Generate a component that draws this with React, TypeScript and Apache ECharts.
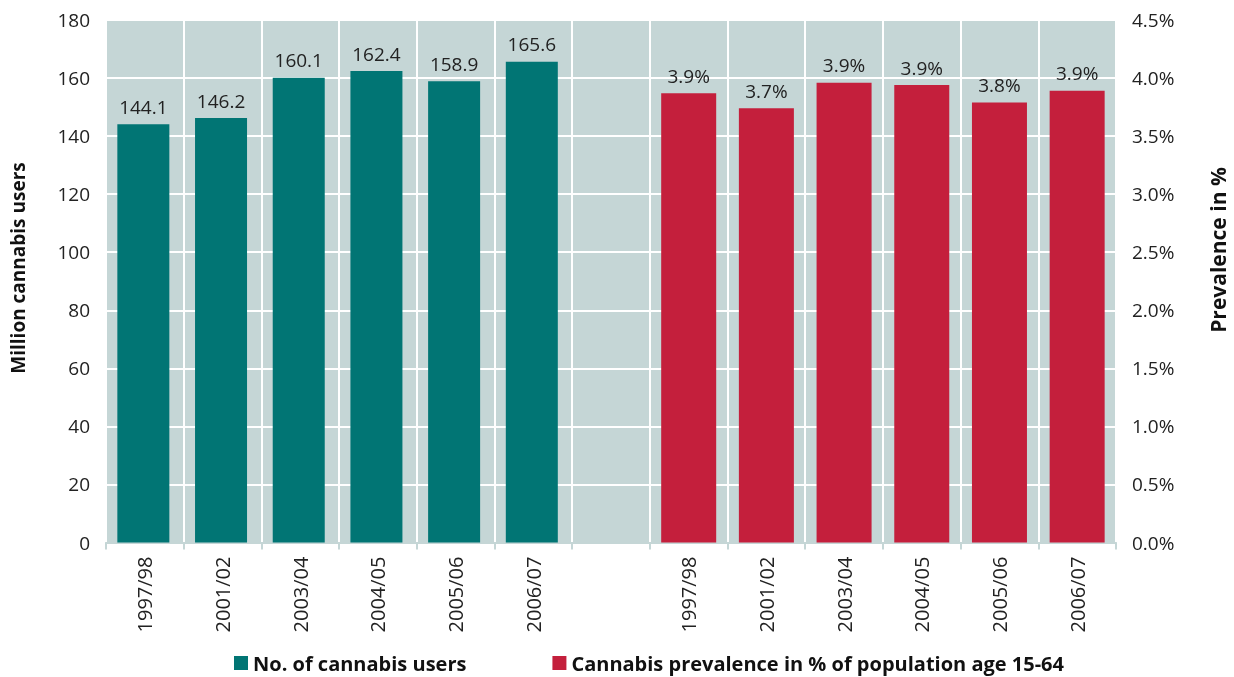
import React, { useEffect, useRef } from "react";
import * as echarts from "echarts";

const periods = ["1997/98", "2001/02", "2003/04", "2004/05", "2005/06", "2006/07"];
const categories = [...periods, "", ...periods];
const users = [144.1, 146.2, 160.1, 162.4, 158.9, 165.6];
const prevalence = [3.87, 3.74, 3.96, 3.94, 3.79, 3.89];
const prevalenceLabels = ["3.9%", "3.7%", "3.9%", "3.9%", "3.8%", "3.9%"];
const leftTicks = { min: 0, max: 180, interval: 20 };
const rightTicks = { min: 0, max: 4.5, interval: 0.5 };

const FONT = "'Open Sans', 'Noto Sans', sans-serif";
const TEAL = "#017574";
const RED = "#c41f3c";
const BG = "#c5d6d6";
const TEXT = "#222222";

export default function App() {
  const ref = useRef<HTMLDivElement>(null);
  useEffect(() => {
    if (!ref.current) return;
    const chart = echarts.init(ref.current, undefined, { renderer: "svg" });
    const tealData = [...users, ...new Array(7).fill("-")];
    const redData = [...new Array(7).fill("-"), ...prevalence];
    chart.setOption({
      animation: false,
      textStyle: { fontFamily: FONT },
      grid: {
        left: 106,
        right: 118,
        top: 20,
        bottom: 134.5,
        show: true,
        backgroundColor: BG,
        borderWidth: 0,
      },
      legend: {
        left: 234,
        top: 653,
        padding: 0,
        icon: "rect",
        itemWidth: 14,
        itemHeight: 14,
        itemGap: 86,
        textStyle: {
          fontFamily: FONT,
          fontSize: 20,
          lineHeight: 20,
          fontWeight: "bold",
          color: "#111",
        },
        data: ["No. of cannabis users", "Cannabis prevalence in % of population age 15-64"],
      },
      graphic: [
        {
          type: "text",
          x: 18,
          y: 268,
          rotation: Math.PI / 2,
          style: {
            text: "Million cannabis users",
            textAlign: "center",
            textVerticalAlign: "middle",
            font: `bold 19px ${FONT}`,
            fill: "#111",
          },
        },
        {
          type: "text",
          x: 1218,
          y: 250,
          rotation: Math.PI / 2,
          style: {
            text: "Prevalence in %",
            textAlign: "center",
            textVerticalAlign: "middle",
            font: `bold 21px ${FONT}`,
            fill: "#111",
          },
        },
      ],
      xAxis: {
        type: "category",
        data: categories,
        axisLine: { lineStyle: { color: BG, width: 2 } },
        axisTick: { show: true, length: 7, interval: 0, lineStyle: { color: BG, width: 2 } },
        splitLine: { show: true, interval: 0, lineStyle: { color: "#ffffff", width: 2 } },
        axisLabel: {
          rotate: 90,
          interval: 0,
          margin: 14,
          fontSize: 20,
          color: TEXT,
          fontFamily: FONT,
        },
      },
      yAxis: [
        {
          type: "value",
          ...leftTicks,
          axisLine: { show: false },
          axisTick: { show: false },
          splitLine: { show: true, lineStyle: { color: "#ffffff", width: 2 } },
          axisLabel: { margin: 16, fontSize: 19, color: TEXT, fontFamily: FONT },
        },
        {
          type: "value",
          ...rightTicks,
          position: "right",
          axisLine: { show: false },
          axisTick: { show: false },
          splitLine: { show: false },
          axisLabel: {
            margin: 16,
            fontSize: 19,
            color: TEXT,
            fontFamily: FONT,
            formatter: (v: number) => v.toFixed(1) + "%",
          },
        },
      ],
      series: [
        {
          name: "No. of cannabis users",
          type: "bar",
          yAxisIndex: 0,
          data: tealData,
          barWidth: 52,
          barGap: "-100%",
          itemStyle: { color: TEAL },
          label: {
            show: true,
            position: "top",
            distance: 8,
            fontSize: 19,
            color: TEXT,
            fontFamily: FONT,
            formatter: (p: any) => Number(p.value).toFixed(1),
          },
        },
        {
          name: "Cannabis prevalence in % of population age 15-64",
          type: "bar",
          yAxisIndex: 1,
          data: redData,
          barWidth: 55,
          barGap: "-100%",
          itemStyle: { color: RED },
          label: {
            show: true,
            position: "top",
            distance: 8,
            fontSize: 19,
            color: TEXT,
            fontFamily: FONT,
            formatter: (p: any) => prevalenceLabels[p.dataIndex - 7] ?? "",
          },
        },
      ],
    });
    return () => chart.dispose();
  }, []);
  return (
    <div
      ref={ref}
      style={{ position: "fixed", left: 0, top: 0, width: 1234, height: 677 }}
    />
  );
}
